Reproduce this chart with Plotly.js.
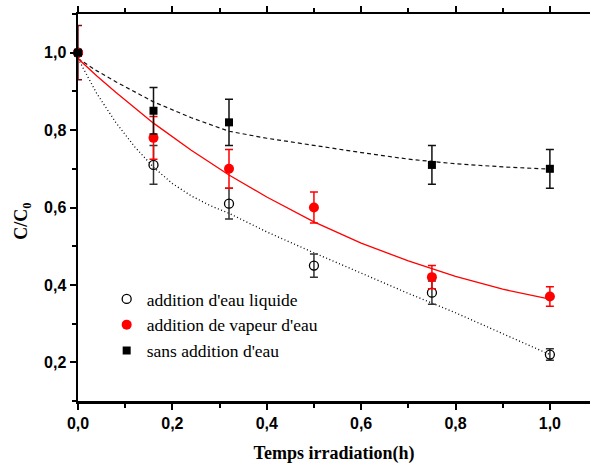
<!DOCTYPE html>
<html>
<head>
<meta charset="utf-8">
<script src="https://cdn.plot.ly/plotly-3.0.1.min.js"></script>
<style>html,body{margin:0;padding:0;background:#fff;}#chart{width:591px;height:465px;}</style>
</head>
<body>
<div id="chart"></div>
<script>
// Measured data
const timeLiquid = [0, 0.16, 0.32, 0.5, 0.75, 1.0];
const valLiquid  = [1.0, 0.71, 0.61, 0.45, 0.38, 0.22];
const errLiquid  = [0, 0.05, 0.04, 0.03, 0.03, 0.015];

const timeVapour = [0, 0.16, 0.32, 0.5, 0.75, 1.0];
const valVapour  = [1.0, 0.78, 0.70, 0.60, 0.42, 0.37];
const errVapour  = [0, 0.055, 0.05, 0.04, 0.03, 0.025];

const timeNone = [0, 0.16, 0.32, 0.75, 1.0];
const valNone  = [1.0, 0.85, 0.82, 0.71, 0.70];
const errNone  = [0, 0.06, 0.06, 0.05, 0.05];

// error at t = 0 (common point)
const timeStart = [0];
const valStart = [1.0];
const errStart = [0.07];

// Fitted curves
const fitTimeLiquid = [0, 0.02, 0.04, 0.08, 0.12, 0.16, 0.2, 0.24, 0.28, 0.32, 0.4, 0.5, 0.6, 0.7, 0.8, 0.9, 1.0];
const fitLiquid     = [0.985, 0.938, 0.894, 0.82, 0.757, 0.704, 0.662, 0.63, 0.605, 0.585, 0.537, 0.483, 0.43, 0.378, 0.328, 0.275, 0.22];

const fitTimeVapour = [0, 0.04, 0.08, 0.12, 0.16, 0.24, 0.32, 0.4, 0.5, 0.6, 0.7, 0.8, 0.9, 1.0];
const fitVapour     = [0.985, 0.94, 0.898, 0.857, 0.818, 0.748, 0.684, 0.627, 0.563, 0.508, 0.462, 0.422, 0.389, 0.363];

const fitTimeNone = [0, 0.04, 0.08, 0.12, 0.16, 0.24, 0.32, 0.4, 0.5, 0.6, 0.7, 0.8, 0.9, 1.0];
const fitNone     = [0.985, 0.953, 0.925, 0.898, 0.873, 0.832, 0.797, 0.779, 0.76, 0.742, 0.725, 0.713, 0.705, 0.699];

const legendNames = ["addition d'eau liquide", "addition de vapeur d'eau", "sans addition d'eau"];

const serif = "'Liberation Serif', 'Times New Roman', serif";

const traces = [
  {x: fitTimeLiquid, y: fitLiquid, mode: 'lines', line: {color: '#000', dash: '1px,2.5px', width: 1.3}, showlegend: false, hoverinfo: 'skip'},
  {x: fitTimeNone, y: fitNone, mode: 'lines', line: {color: '#111', dash: '4px,3px', width: 1.2}, showlegend: false, hoverinfo: 'skip'},
  {x: fitTimeVapour, y: fitVapour, mode: 'lines', line: {color: '#ff0000', width: 1.3}, showlegend: false, hoverinfo: 'skip'},
  {x: timeStart, y: valStart, mode: 'markers', marker: {size: 1, color: 'rgba(0,0,0,0)'}, showlegend: false, cliponaxis: false,
   error_y: {type: 'data', array: errStart, color: '#7a1010', thickness: 1.5, width: 4}},
  {x: timeLiquid, y: valLiquid, name: legendNames[0], mode: 'markers', cliponaxis: false,
   marker: {symbol: 'circle-open', size: 9, color: '#000', line: {width: 1.3, color: '#000'}},
   error_y: {type: 'data', array: errLiquid, color: '#333', thickness: 1.5, width: 4}},
  {x: timeVapour, y: valVapour, name: legendNames[1], mode: 'markers', cliponaxis: false,
   marker: {symbol: 'circle', size: 10, color: '#ff0000'},
   error_y: {type: 'data', array: errVapour, color: '#ff0000', thickness: 1.5, width: 4}},
  {x: timeNone, y: valNone, name: legendNames[2], mode: 'markers', cliponaxis: false,
   marker: {symbol: 'square', size: 8, color: '#000'},
   error_y: {type: 'data', array: errNone, color: '#111', thickness: 1.5, width: 4}}
];

const tickFont = {family: "'Liberation Sans', Arial, sans-serif", size: 16, color: '#000', weight: 'bold'};

const layout = {
  width: 591, height: 465,
  margin: {l: 78, r: 1, t: 14, b: 64},
  paper_bgcolor: '#fff', plot_bgcolor: '#fff',
  separators: ', ',
  showlegend: true,
  legend: {x: 0.056, y: 0.31, xanchor: 'left', yanchor: 'top', bgcolor: 'rgba(0,0,0,0)',
           font: {family: serif, size: 17.5, color: '#000'},
           tracegroupgap: 0},
  xaxis: {
    range: [0, 1.085], dtick: 0.2, tick0: 0, tickformat: '.1f',
    showgrid: false, zeroline: false,
    showline: true, linewidth: 2.5, linecolor: '#000', mirror: 'ticks',
    ticks: 'outside', ticklen: 6, tickwidth: 2, tickcolor: '#000',
    minor: {dtick: 0.1, ticks: 'outside', ticklen: 4, tickwidth: 2, tickcolor: '#000'},
    tickfont: tickFont,
    title: {text: 'Temps irradiation(h)', font: {family: serif, size: 18, color: '#000', weight: 'bold'}, standoff: 16}
  },
  yaxis: {
    range: [0.1, 1.1], dtick: 0.2, tick0: 0, tickformat: '.1f',
    showgrid: false, zeroline: false,
    showline: true, linewidth: 2.5, linecolor: '#000', mirror: false,
    ticks: 'outside', ticklen: 6, tickwidth: 2, tickcolor: '#000',
    minor: {dtick: 0.1, ticks: 'outside', ticklen: 4, tickwidth: 2, tickcolor: '#000'},
    tickfont: tickFont,
    title: {text: 'C/C<sub>0</sub>&nbsp;&nbsp;&nbsp;&nbsp;&nbsp;&nbsp;', font: {family: serif, size: 18, color: '#000', weight: 'bold'}, standoff: 12}
  }
};

Plotly.newPlot('chart', traces, layout, {displayModeBar: false, staticPlot: true});
</script>
</body>
</html>
